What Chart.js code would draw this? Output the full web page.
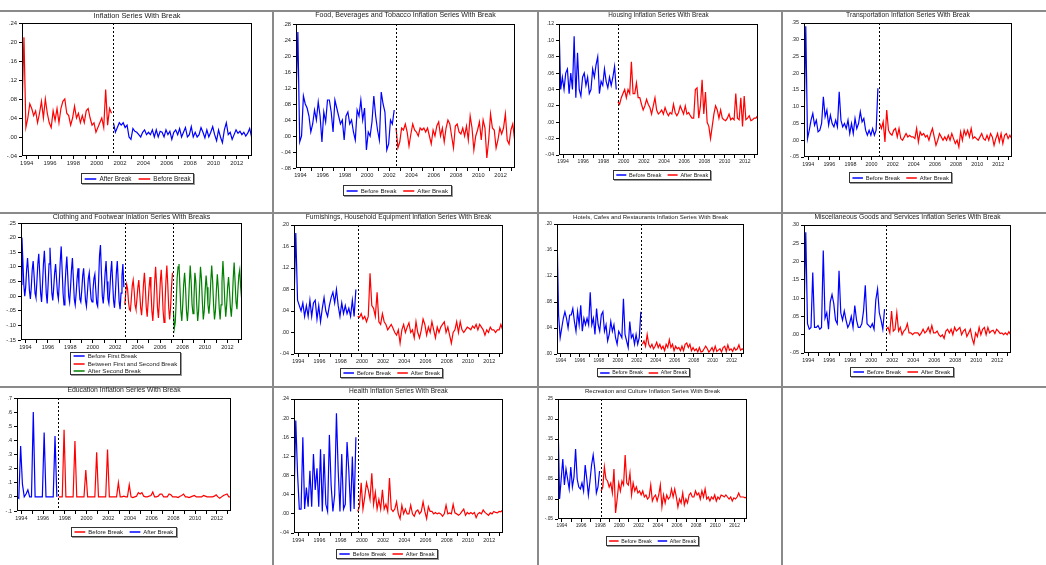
<!DOCTYPE html>
<html lang="en">
<head>
  <meta charset="UTF-8">
  <meta name="viewport" content="width=device-width, initial-scale=1.0">
  <title>Inflation series with breaks</title>
  <script src="https://cdn.jsdelivr.net/npm/chart.js"></script>
  <style>
    body { margin: 0; background: #fff; overflow: hidden; }
    #page { position: relative; width: 1046px; height: 565px; }
    #page canvas { position: absolute; left: 0; top: 0; }
    .rule { position: absolute; background: #8a8a8a; }
  </style>
</head>
<body>
  <div id="page"></div>
  <script>

// all values in percent points (5 = .05); bi-monthly from late 1993, clothing is monthly
const START = 1993.6;
const END = 2013.3;
const YEARS = [1994, 1995, 1996, 1997, 1998, 1999, 2000, 2001, 2002, 2003,
               2004, 2005, 2006, 2007, 2008, 2009, 2010, 2011, 2012, 2013];

const inflation = [
  5.5, 21, 2, 4, 7, 6, 4.5, 5.5, 3, 5,
  7.5, 4, 8, 5, 3, 2, 5.5, 3.5, 6, 3,
  6, 7.5, 8, 5, 4.5, 2.5, 4, 6.5, 4, 5,
  3, 4.5, 3, 5.5, 6, 4, 2.5, 3, 1, 2,
  3, 4, 2, 10, 2.5, 6, 5, 3, 1, 2,
  3, 2.5, 3, 2, 2.5, 0, -0.5, 1.8, 1.2, 1,
  0.5, 0, 1, 1.5, 0.5, 1, 0.5, 1.5, 0, 1.5,
  0, 1.2, 1, 0, 1.5, 0.5, 1.2, -0.5, 1, 1.5,
  0.5, 1.8, 0, 1, 2, 0, 0.5, 2.2, 0, 1,
  0, 0.5, 2, 1, -0.2, 1.5, 0, 1, 2.2, 0.5,
  -0.8, 1.5, 0, -1.2, 1.5, 3, 0.5, 1, -0.5, 0.5,
  1.5, 0.8, 1.2, 0.5, 1, 0.2, 0.8, 1.8, 0
];

const foodBev = [
  9, 26, -1.5, 0, 10, 8, 7, 5, 1, 3,
  6.5, 4, 8.5, 5, -1.5, 6, 3.5, 9, 9, 6,
  1, 9, 7, 5, 3, 4, -1, 5, 6, 3,
  4, 1, -1, 6.5, 5, 9, 4, 7, -3.5, 1,
  0, 3.5, 10, 5, 1.5, -1, 11, 8, 6, -3.5,
  -2, 4, 3, 6.5, 2, -3, -1.5, 2, 1.5, 3,
  1, -2.5, 0.5, 3, 1.5, 1, 0, 2, 1.5, 2,
  1, 2, 0, -2, 1.5, 0, 2.5, 3.5, 0, 2,
  -1.5, 2, 4, 3, 0, -3, 2.5, 3, 1, 0.5,
  2, 0, 2.5, -1, 5, 2, -3.5, 0, 1.5, 3.5,
  -1, 4, 2, -5.5, -1, 5.5, 2, 1.5, -3, -1,
  2, 0.5, 2, 5.5, -1, -2, 1.5, 3, -1
];

const housing = [
  12, 4, 5.5, 4, 6, 6.5, 3.5, 6, 4, 10.5,
  3, 8.5, 4, 3.2, 5.5, 6, 4.5, 5.5, 3.5, 4,
  6.5, 5.5, 7, 8, 3.5, 5, 4.5, 6.5, 5, 4.2,
  5.5, 4.5, 5.5, 6.8, 4, 2.5, 2.2, 3, 3.5, 4,
  3, 4, 3.5, 7.4, 3.5, 3.5, 4.8, 3, 3, 2.2,
  1.5, 2, 2.8, 2.2, 1.8, 1, 2, 3, 1.5, 1,
  1.2, 1.5, 1, 1.8, 1.2, 0.8, 1.2, 1, 2.2, 1.2,
  0.8, 1.2, 2, 1.5, 1, 2, 1, 1.2, 0.8, 0.5,
  0.5, 4, 4.2, 0.5, 2, 5.2, 1, 3.7, 0, -0.5,
  -2, -0.5, 1, 2, 1.5, 0.5, 1.5, 0.5, 0.3, 0.2,
  0.5, 1, 0.3, 0.5, 0.3, 3.5, 0.5, 0.3, 3, -0.5,
  3.2, 0.3, 0.5, 0.8, 0.2, 0.3, 0.5, 0.5, 0.8
];

const transport = [
  4, 34, 0.5, 3, 6, 8, 4.5, 6, 2.5, 3,
  5, 13, 7, 9, 4.5, 7.5, 5, 4, 6, 4,
  14.5, 6, 4, 5, 3.5, 6, 2, 5, 2, 6.5,
  3.5, 5, 8.5, 5.5, 6.5, 3, 1.5, 3, 1.5, 3.5,
  1.5, 3, 15.5, 5, 3.5, 5.5, -0.5, 9, 3, 2,
  1.5, 3, 3.5, 1, 3.5, 0.5, 0, 1, 2, 1,
  1.5, 1, 1, 0.5, 3.5, -0.5, 2.5, 1.5, 2, 1,
  1.5, 0, 2, 3.5, 1, -1.5, 0, 2, 1, 0,
  1, 0, 1.5, 0, 2, 0.5, -1, 0, -2, 2.5,
  0, 3, 1.5, 3, 1, 3.5, 0.5, 1, 0.5, 0,
  1, 2, 0.5, 0, 1.5, 0, 2, 1, -1.5, 0.5,
  2, -0.5, 2, -1, 1.5, 2, 0.5, 1.5, 0.5
];

const clothing = [
  4, 20, 12, 4, 0, 3, 9, 13, 8, 2,
  -1, 3, 9, 12, 7, 1, -0.5, 5, 11, 14.5,
  8, 1, -2, 4, 11, 15.5, 9, 1, -2.5, 4,
  11, 16.5, 9, 1, -1.5, 3, 8, 11, 6, 1,
  -1, 5, 12, 17, 9, 1, -3, 3, 9, 13.5,
  7, 0, -2, 3, 9, 13, 6, -1, -3, 1,
  6, 9.5, 4, -1, -2, 2, 7, 9.5, 4, -1.5,
  -3.5, 1, 6, 8, 3, -1, -2, 2, 6, 7.5,
  2, -2.5, -3.5, 5, 14, 17.5, 8, 0, -2.5, 2,
  8, 12, 5, -1, -2.5, 2, 8, 12, 5, -1.5,
  -4, 1, 8, 12, 5, -2, -4.5, 1, 7, 11,
  3, -3, 1, 4, 2.5, -2, -4.5, -5, -1, 3.5,
  5.5, 2, -3, -4.5, -1, 3, 5.5, 1, -4, -6.5,
  -2, 4, 8, 3, -4, -7, -2, 3, 6.5, 2,
  -5, -8.5, -3, 5, 10, 4, -4, -7.5, -2, 5,
  9, 3, -5, -9, -3, 5, 10.5, 4, -4, -8,
  -4, 3, 8, -5, -11, -9, -2, 6, 10, 11,
  3, -5, -8.5, -3, 4, 8, 3, -5, -8.5, -4,
  4, 10.5, 5, -3, -6, -1, 8, 5, -3, -8.5,
  -5, 3, 10, 6, -2, -8, -5, 2, 7, 3,
  -3, -6, -2, 5, 10.5, 5, -3, -8, -5, 2,
  7.5, 3, -4, -8, -3, 5, 12, 6, -2, -7,
  -3, 3, 6.5, 2, -4, -7, -2, 6, 11.5, 5,
  -2, -4.5, 2, 7, 9, 3, -1
];

const furnishings = [
  5.5, 18.5, 6, 5, 4, 5.5, 3, 5, 3, 6,
  3, 5.5, 6, 2.5, 5, 2, 4.5, 6.5, 4, 3,
  5, 6.5, 7.5, 5.5, 8, 5, 3, 5.5, 3.5, 5,
  3.5, 4.5, 3, 6, 3, 8, 3, 2.8, 3.5, 2.5,
  3, 2, 3, 11, 5, 4.5, 3, 7.5, 2, 1.5,
  3.5, 2, 1.5, 0.5, 1, 1.5, 0.8, 0, -0.5, 0.5,
  -2, 0.5, 1.5, 0, 1, 1.8, 0, 0.5, -1, 2,
  0, -1, 0.5, 2.5, 1.5, -0.5, 1, 0, 2, 0.5,
  -1, 1, 0, 1, 1.5, 2, 0, 1, -0.5, -2,
  0, 0.5, 2, 0, 2, 0.5, 0, 0.5, 1, 0.8,
  0.5, 1.2, 0.8, 1.5, 0.5, 1.5, 1, 0.5, -0.5, 0.5,
  0, 1, 0.5, 0.5, 0, 0.5, 0.5, 1.5, 0.5
];

const hotels = [
  19, 6, 2.5, 4, 5.5, 6.5, 5.5, 4, 6, 6,
  7, 5, 3.5, 6.5, 4.5, 7.5, 3.5, 5.5, 4.5, 5.5,
  4.5, 9.5, 4.5, 5.5, 3, 7, 4.5, 3.5, 6, 6.5,
  3.5, 4.5, 2, 3, 5, 3.5, 4.5, 2.5, 1.5, 3.5,
  3, 2.5, 8.5, 3, 2, 1, 5, 2.5, 3, 1.5,
  3, 1.5, 2.5, 6.5, 1.5, 2, 1.2, 3, 1.5, 1,
  1.5, 0.8, 1.2, 1.8, 1, 1.5, 0.8, 1.2, 0.5, 1.5,
  1, 2.2, 1, 1.5, 0.5, 1.2, 0.8, 1, 0.5, 1.2,
  0.5, 1.5, 1.7, 1, 1.5, 0.5, 1, 0.5, 0.8, 0.3,
  1, 0.3, 0.4, 0.8, 1.2, 0.8, 0.3, 0.6, 1, 0.4,
  1.2, 0.4, 0.6, 0.8, 0.3, 1, 1.2, 0.4, 1.4, 0.6,
  0.8, 0.4, 1, 0.6, 0.8, 1.4, 0.6, 0.8, 0.6
];

const misc = [
  5.5, 28, 3, 1.5, 2, 17, 2, 2, 2.5, 1.5,
  2, 23, 4.5, 6, 1.5, 9, 11, 8.5, 4, 3,
  17.5, 6, 4, 6.5, 4, 2, 3, 5, 2, 8,
  4, 2, 2, 3, 6.5, 13.5, 3, 2.5, 2, 3,
  1.5, 9.5, 12.5, 6, 4, 1.5, 7, 1.5, 2, 0.5,
  6.5, 1, 1.5, 6, 1, 2, 0, 1, 1.5, 3,
  0.5, 0.5, 0, 0.5, 0.5, 0.5, -0.2, 0.5, 1.5, 0.5,
  1, 2, 0.5, 2.5, 0.5, 0.5, 1, 0, -0.5, 0,
  -1, 1, 1.5, 0.5, 1.5, 0, 2, 1, 1.5, 2,
  0, 1, 1.5, -0.5, 0.5, 1.5, -1, -2.5, 0.5, -0.5,
  2, 0, 1.5, 2, 0, 2, 0.5, 1, 1.2, 0.3,
  1.5, 1, 0.3, 0.5, 0, 0.5, 0, 0.8, 0
];

const education = [
  0, -1, 36, 9, 0, 2, 5, 0, 0, 60,
  0, 0, 0, 0, 0, 45.5, 0, 0, 0, 0,
  0, 43, 0, 0, 0, 0, 47.5, 0, 0, 0,
  0, 0, 39.5, 0, 0, 0, 0, 0, 19, 0,
  0, 0, 0, 0, 31.5, 0, 0, 0, 0, 0,
  33.5, 0, 0, 0, 0, 0, 10, 0, 0, 0.5,
  0, 0, 8.5, 0, -0.5, 0, 0.5, 3, 2, 3,
  0.5, 0, 0, 0.5, 1, 3.5, 0, 0, 0.5, 2,
  2, 0, 0, 0, 2, 1.5, 0, 0, 0, -0.5,
  0.5, 1, 2, 0, 0, -0.5, 0, 0.5, 1, 0,
  0, 0, 0, 1, 0.5, 0, 0, 0, 0, 0.5,
  1.5, 0, -1, 0, 1, 1.5, 2, 0, 0
];

const health = [
  2.5, 19.5, 8.5, 1, 1, 16, 1, 5.5, 1.5, 9,
  1.5, 12.5, 5, 9.5, 1.5, 13.5, 0.5, 12.5, 2, 0.5,
  16.5, 6, 0.5, 4, 21, 9, 0.5, 12.5, 1, 2,
  15, 9, 0.5, 12, 1, 16, 0.5, 1.5, 6.5, 1,
  3.5, 6.5, 5, 3, 8.5, 2, 4.5, 1, 3, 1,
  5, 1, 2, 0.5, 7.5, 1, 0.5, 1, 2.5, 0,
  -1, 1.8, 0, 1, 0, 0, 1.8, 0, -0.5, 0.5,
  0.8, 0, 0.5, 2.5, 0.5, -1, 1.5, 0.5, 0.5, 0,
  0.3, 0, 0.2, 0, -0.5, 0, 1.8, 0, 0.2, 0,
  2, 0.2, 0, -0.3, 0, 0.5, 1, -0.3, 0.3, 0,
  0.3, 0, 0.3, -0.8, 0, 0.3, 0, 0.8, 0.3, 0,
  -0.3, 0.2, 0, 0.5, 0.3, 0.2, 0.5, 0.4, 0.8
];

const recreation = [
  20, 0, 5, 10, 3.5, 7.5, 5, 2.5, 8, 3,
  5.5, 12.5, 5, 3, 2.5, 4, 2, 8.5, 5, 1,
  4.5, 8.5, 11, 7.5, 1.5, 3, 7, 2, 3, 8,
  5, 4.5, 3, 4, 1.5, 7.5, -3.5, 0, 4, 2,
  4.5, 3.5, 11, 4, 3.5, 6.5, 1, 4, 2, 3,
  1.5, 2, 1, 2, 0.5, 1, 0, 0.5, 3.5, -0.5,
  0.5, 1, -0.5, 1, 3.5, -2, 1, -1, 1, 0,
  0.5, 2.5, 0.5, 2.5, 0.5, -2, 0, -1, 1.5, -1.5,
  0, -1, 1, 1.5, 0.5, 0.5, 2, 1, 1.5, 0,
  2, 0.5, 2.5, 0, 0.5, -0.5, 0.5, 0, 1, -0.5,
  0.5, 0, 1, 0.8, 0.5, 1, 0.5, 0, 0.5, -0.5,
  0.3, 0, 0.5, 1.5, 0.5, 0.5, 0.5, 0.3, 0.5
];

const BLUE = '#0000ff', RED = '#ff0000', GREEN = '#008000';
const FONT = '"Liberation Sans", Arial, sans-serif';
const BB = ['Before Break', 'After Break'];

// area = plot box [left, top, right, bottom] on the page; y = [min, max, step]
const panels = [
  { title: 'Inflation Series With Break', titleW: 87, titleY: 15.5, values: inflation, perYear: 6,
    splits: [47], breaks: [2001.4], names: BB, colors: [RED, BLUE], order: [1, 0],
    area: [22, 23, 252, 156], y: [-4, 24, 4], dec: 2, legend: [137.5, 173, 10] },
  { title: 'Food, Beverages and Tobacco Inflation Series With Break', titleW: 181, titleY: 15, values: foodBev, perYear: 6,
    splits: [54], breaks: [2002.59], names: BB, colors: [BLUE, RED], order: [0, 1],
    area: [296, 24, 515, 168], y: [-8, 28, 4], dec: 2, legend: [397, 185, 10] },
  { title: 'Housing Inflation Series With Break', titleW: 100.7, titleY: 15, values: housing, perYear: 6,
    splits: [35], breaks: [1999.45], names: BB, colors: [BLUE, RED], order: [0, 1],
    area: [559, 24, 758, 155], y: [-4, 12, 2], dec: 2, legend: [662, 170, 9] },
  { title: 'Transportation Inflation Series With Break', titleW: 124, titleY: 15, values: transport, perYear: 6,
    splits: [43], breaks: [2000.73], names: BB, colors: [BLUE, RED], order: [0, 1],
    area: [804, 23, 1012, 157], y: [-5, 35, 5], dec: 2, legend: [900.5, 172, 10] },
  { title: 'Clothing and Footwear Inlation Series With Breaks', titleW: 157.7, titleY: 217, values: clothing, perYear: 12,
    splits: [111, 163], breaks: [2002.87, 2007.18],
    names: ['Before First Break', 'Between First and Second Break', 'After Second Break'],
    colors: [BLUE, RED, GREEN], order: [0, 1, 2],
    area: [21, 223, 242, 340], y: [-15, 25, 5], dec: 2, legend: [125, 352, 22, true] },
  { title: 'Furnishings, Household Equipment Inflation Series With Break', titleW: 185.7, titleY: 217.3, values: furnishings, perYear: 6,
    splits: [36], breaks: [1999.61], names: BB, colors: [BLUE, RED], order: [0, 1],
    area: [294, 225, 503, 354], y: [-4, 20, 4], dec: 2, legend: [391, 368, 9] },
  { title: 'Hotels, Cafes and Restaurants Inflation Series With Break', titleW: 155.3, titleY: 217.3, values: hotels, perYear: 6,
    splits: [54], breaks: [2002.5], names: BB, colors: [BLUE, RED], order: [0, 1],
    area: [557, 224, 744, 354], y: [0, 20, 4], dec: 2, legend: [643.5, 368, 8] },
  { title: 'Miscellaneous Goods and Services Inflation Series With Break', titleW: 186.3, titleY: 217.3, values: misc, perYear: 6,
    splits: [47], breaks: [2001.42], names: BB, colors: [BLUE, RED], order: [0, 1],
    area: [804, 225, 1011, 353], y: [-5, 30, 5], dec: 2, legend: [901, 367, 9] },
  { title: 'Education Inflation Series With Break', titleW: 113.3, titleY: 390.3, values: education, perYear: 6,
    splits: [23], breaks: [1997.38], names: ['After Break', 'Before Break'], colors: [BLUE, RED], order: [1, 0],
    area: [17, 398, 231, 511], y: [-10, 70, 10], dec: 1, legend: [123.7, 527, 9] },
  { title: 'Health Inflation Series With Break', titleW: 99, titleY: 391.3, values: health, perYear: 6,
    splits: [36], breaks: [1999.61], names: BB, colors: [BLUE, RED], order: [0, 1],
    area: [294, 399, 503, 533], y: [-4, 24, 4], dec: 2, legend: [386.7, 548.5, 9] },
  { title: 'Recreation and Culture Inflation Series With Break', titleW: 135.3, titleY: 391, values: recreation, perYear: 6,
    splits: [27], breaks: [1998.06], names: ['After Break', 'Before Break'], colors: [BLUE, RED], order: [1, 0],
    area: [558, 399, 747, 519], y: [-5, 25, 5], dec: 2, legend: [652, 535.5, 9] }
];

// grey frame lines between the graphs: [left, top, width, height]
const RULES = [[0, 9.5, 1046, 2], [0, 211.5, 1046, 2], [0, 386, 1046, 2],
               [272, 9.5, 2, 556], [537, 9.5, 2, 556], [781, 9.5, 2, 556]];

const page = document.getElementById('page');
RULES.forEach(([l, t, w, h]) => {
  const d = document.createElement('div');
  d.className = 'rule';
  d.style.cssText = `left:${l}px;top:${t}px;width:${w}px;height:${h}px`;
  page.appendChild(d);
});

const meter = document.createElement('canvas').getContext('2d');
function fitSize(text, width) {
  meter.font = `20px ${FONT}`;
  return 20 * width / meter.measureText(text).width;
}

function fmt(v, d) {
  return (v / 100).toFixed(d).replace('0.', '.');
}

function segments(p) {
  const cuts = [0, ...p.splits, p.values.length];
  return p.names.map((name, s) => ({
    label: name,
    data: p.values.slice(cuts[s], cuts[s + 1]).map((v, i) => ({ x: START + (cuts[s] + i) / p.perYear, y: v })),
    borderColor: p.colors[s],
    borderWidth: 1.2,
    pointRadius: 0,
    tension: 0,
    fill: false
  }));
}

function drawLegend(ctx, p) {
  const [cx, top, h, vertical] = p.legend;
  const f = p.fs * 0.87;
  ctx.font = `${f}px ${FONT}`;
  const items = p.order.map(i => ({ text: p.names[i], color: p.colors[i], w: ctx.measureText(p.names[i]).width }));
  const seg = 1.8 * f, gap = 0.5 * f, pad = 0.5 * f, sep = 1.1 * f;
  const w = vertical
    ? 2 * pad + seg + gap + Math.max(...items.map(it => it.w))
    : 2 * pad + items.reduce((s, it) => s + seg + gap + it.w, 0) + sep * (items.length - 1);
  const left = Math.round(cx - w / 2) + 0.5, t = Math.round(top) + 0.5;
  const bw = Math.round(w), bh = Math.round(h);
  ctx.lineWidth = 1;
  ctx.strokeStyle = '#9a9a9a';
  ctx.strokeRect(left + 1, t + 1, bw, bh);
  ctx.fillStyle = '#fff';
  ctx.fillRect(left, t, bw, bh);
  ctx.strokeStyle = '#333';
  ctx.strokeRect(left, t, bw, bh);
  ctx.textAlign = 'left';
  ctx.textBaseline = 'middle';
  let xx = left + pad;
  items.forEach((it, r) => {
    const yy = vertical ? t + bh * (r + 0.5) / items.length : t + bh / 2;
    if (vertical) xx = left + pad;
    ctx.strokeStyle = it.color;
    ctx.lineWidth = 1.5;
    ctx.beginPath();
    ctx.moveTo(xx, Math.round(yy));
    ctx.lineTo(xx + seg, Math.round(yy));
    ctx.stroke();
    ctx.fillStyle = '#222';
    ctx.fillText(it.text, xx + seg + gap, yy + 0.5);
    xx += seg + gap + it.w + sep;
  });
}

// break lines, plot frame, title and the boxed legend
const panelDecor = {
  id: 'panelDecor',
  afterDraw(chart, args, opts) {
    const p = opts.panel;
    const { ctx, chartArea: a } = chart;
    const x = chart.scales.x;
    ctx.save();
    ctx.lineWidth = 1;
    ctx.strokeStyle = '#000';
    ctx.setLineDash([2, 2]);
    p.breaks.forEach(b => {
      const px = Math.round(x.getPixelForValue(b)) + 0.5;
      ctx.beginPath();
      ctx.moveTo(px, a.top);
      ctx.lineTo(px, a.bottom);
      ctx.stroke();
    });
    ctx.setLineDash([]);
    ctx.strokeRect(a.left + 0.5, a.top + 0.5, a.right - a.left - 1, a.bottom - a.top - 1);
    ctx.fillStyle = '#222';
    ctx.font = `${p.fs}px ${FONT}`;
    ctx.textAlign = 'center';
    ctx.textBaseline = 'middle';
    ctx.fillText(p.title, (a.left + a.right) / 2, p.titleY);
    drawLegend(ctx, p);
    ctx.restore();
  }
};

panels.forEach(p => {
  const cv = document.createElement('canvas');
  cv.width = 1046;
  cv.height = 565;
  page.appendChild(cv);
  const [L, T, R, B] = p.area;
  const yw = Math.min(L, 20), xh = 12;
  p.fs = fitSize(p.title, p.titleW);
  const tickFont = { family: FONT, size: p.fs * 0.8 };

  new Chart(cv, {
    type: 'line',
    data: { datasets: segments(p) },
    options: {
      responsive: false,
      animation: false,
      events: [],
      layout: { autoPadding: false, padding: { left: L - yw, top: T, right: 1046 - R, bottom: 565 - B - xh } },
      plugins: { legend: { display: false }, tooltip: { enabled: false }, panelDecor: { panel: p } },
      scales: {
        x: {
          type: 'linear', min: START, max: END,
          afterBuildTicks: s => { s.ticks = YEARS.map(v => ({ value: v })); },
          afterFit: s => { s.height = xh; },
          ticks: { autoSkip: false, maxRotation: 0, padding: 1, color: '#222', font: tickFont,
                   callback: v => (v % 2 === 0 ? String(v) : '') },
          grid: { drawOnChartArea: false, tickLength: 3, color: '#000' },
          border: { display: false }
        },
        y: {
          min: p.y[0], max: p.y[1],
          afterFit: s => { s.width = yw; },
          ticks: { stepSize: p.y[2], padding: 2, color: '#222', font: tickFont, callback: v => fmt(v, p.dec) },
          grid: { drawOnChartArea: false, tickLength: 3, color: '#000' },
          border: { display: false }
        }
      }
    },
    plugins: [panelDecor]
  });
});

  </script>
</body>
</html>
